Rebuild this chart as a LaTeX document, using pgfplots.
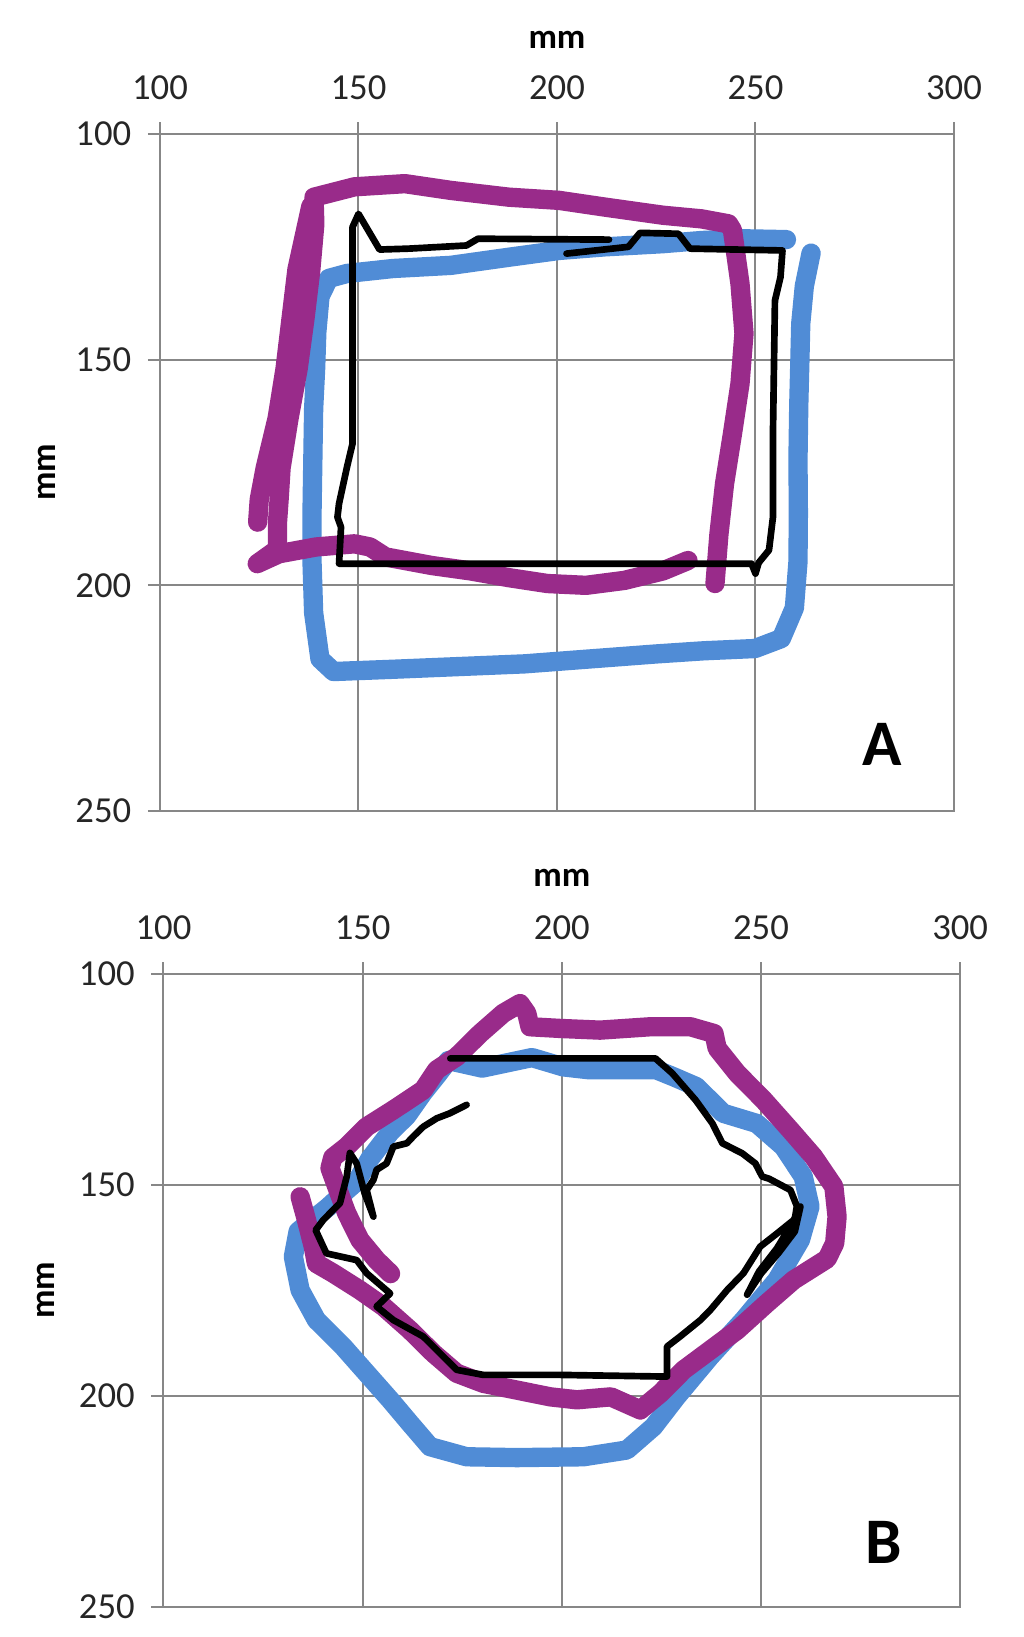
\documentclass[border=0pt]{standalone}
\usepackage{fontspec}
\setmainfont{Carlito}
\usepackage{pgfplots}
\pgfplotsset{compat=1.18}

\definecolor{tracepurple}{RGB}{153,43,138}
\definecolor{traceblue}{RGB}{80,140,214}
\definecolor{gridgray}{RGB}{135,135,135}

\pgfplotsset{
  panel/.style={
    scale only axis,
    anchor=north west,
    xmin=100, xmax=300, ymin=100, ymax=250,
    y dir=reverse,
    xtick={100,150,...,300}, ytick={100,150,200,250},
    xtick pos=right, xticklabel pos=right, ytick pos=left,
    tick align=outside, major tick length=3.6pt,
    grid=major, major grid style={gridgray, line width=0.6pt},
    axis line style={gridgray, line width=0.6pt},
    tick style={gridgray, line width=0.6pt},
    tick label style={font=\fontsize{11}{13}\selectfont, text=black!85},
    xticklabel style={yshift=3pt},
    yticklabel style={xshift=-1.5pt},
    /pgf/number format/assume math mode=true,
    label style={font=\fontsize{10.5}{12}\selectfont\bfseries},
    xlabel={mm}, ylabel={mm},
  },
  bluetrace/.style={traceblue, line width=5.8pt, line join=round, line cap=round, mark=none},
  purpletrace/.style={tracepurple, line width=5.8pt, line join=round, line cap=round, mark=none},
  blacktrace/.style={black, line width=2pt, line join=round, line cap=round, mark=none},
}

\begin{document}
\begin{tikzpicture}
\useasboundingbox (0,0) rectangle (307.2pt,491.1pt);

% panel A: squares
\begin{axis}[panel,
    at={(48pt,450.9pt)}, width=238.2pt, height=203.1pt,
    xlabel style={at={(axis description cs:0.5,1.1388)}, anchor=center},
    ylabel style={at={(axis description cs:-0.1423,0.5)}, anchor=center, rotate=0},
  ]
  \addplot[bluetrace] coordinates {
    (264.0,126.4) (262.3,133.7) (261.4,142) (261.2,149.5) (260.9,160) (260.7,172.2)
    (260.8,184) (260.7,194.8) (259.8,205.0) (256.5,211.8) (249.9,214.0) (237,214.5)
    (225.0,215.2) (208.4,216.3) (191.8,217.4) (175.2,218.0) (158.6,218.6) (143.7,219.1)
    (140.3,216.3) (138.7,206.1) (138.3,195) (138.3,183.5) (138.5,172) (138.7,160.9)
    (139.2,152) (139.5,143.9) (140.3,136.0) (142.5,132.0) (147.1,130.9) (158.7,129.8)
    (173.3,129.1) (187.9,127.3) (200.5,125.8) (212.1,125.0) (226.7,124.3) (236.4,123.6)
    (246.1,123.2) (257.8,123.4)
  };
  \addplot[purpletrace] coordinates {
    (233.0,194.5) (226.7,196.8) (217.0,198.9) (207.3,200.0) (197.6,199.6) (187.9,198.3)
    (178.2,196.8) (168.4,195.6) (156.8,193.7) (152.9,191.5) (149.0,190.8) (139.3,191.5)
    (130,193) (124.5,195.2) (129.6,192) (129.6,186) (130,181) (130.5,174) (132.5,163)
    (134.8,152) (136.5,141) (138,130) (139,120) (138.8,114.0) (149.0,111.7) (161.7,111.0)
    (173.3,112.5) (187.9,114.0) (200.5,114.7) (212.1,116.2) (226.7,118.0) (236.4,118.8)
    (243.2,119.9) (244.2,121.3) (246.1,133.2) (247.1,144.2) (246.1,155.3) (244.2,166.4)
    (242.2,177.5) (240.8,188.6) (239.8,199.6)
  };
  \addplot[purpletrace] coordinates {
    (138,116) (136.5,122) (134.5,130) (133,141) (131.5,152) (129.5,163) (126.5,174)
    (125,181) (124.6,186)
  };
  \addplot[blacktrace] coordinates {
    (213.1,123.4) (180.1,123.2) (177.2,124.7) (162.6,125.4) (155.3,125.6) (150.0,117.7)
    (148.5,120.6) (148.5,168.6) (147.1,173.8) (145.1,181.9) (144.7,184.9) (145.6,187.1)
    (145.1,195.2) (249.0,195.2) (250.0,197.4) (250.8,195.0) (253.4,192.2) (254.4,184.9)
    (254.4,166.4) (254.9,136.9) (256.3,131.7) (256.8,125.8) (233.5,125.4) (230.6,122.1)
    (220.9,121.9) (218.0,125.0) (202.4,126.5)
  };
  \node[font=\fontsize{19.5}{22}\selectfont\bfseries] at (axis cs:282,235.2) {A};
\end{axis}

% panel B: hexagons
\begin{axis}[panel,
    at={(49.05pt,198.9pt)}, width=239pt, height=189.9pt,
    xlabel style={at={(axis description cs:0.5,1.1517)}, anchor=center},
    ylabel style={at={(axis description cs:-0.1475,0.5)}, anchor=center, rotate=0},
  ]
  \addplot[bluetrace] coordinates {
    (171.5,120.5) (180,122.3) (192.5,119.8) (200.3,122.0) (206.9,122.7) (223.7,122.7)
    (227.9,124.3) (233.8,126.7) (240.5,133.0) (248.9,135.4) (255.6,140.9) (260.6,148.0)
    (262.3,155.1) (259.9,163.0) (254.0,172.5) (245.6,182.0) (237.2,190.7) (228.8,200.2)
    (223.0,207.3) (216.3,212.8) (205.4,214.4) (188.7,214.6) (176.1,214.4) (166.9,212.0)
    (161.9,206.5) (156.9,200.9) (151.0,194.6) (145.1,188.3) (138.4,182.0) (134.3,174.9)
    (132.6,167.0) (133.8,161) (137,158.5) (141,155.5) (145.1,152) (148.5,149.2)
    (151.8,143.8) (156.9,137.5) (161.1,133.6) (165.2,128.1) (168.6,124.1) (171.5,120.5)
  };
  \addplot[purpletrace] coordinates {
    (157,171) (153.5,167.8) (149.3,163.0) (146.0,156.7) (143.5,150.4) (141.8,146)
    (142.5,143.5) (146.0,140.9) (151.0,136.2) (157.7,132.2) (165.2,127.5) (168.6,122.7)
    (173.6,119.6) (179.5,114.1) (185.3,109.3) (189.5,107.0) (191.2,109.3) (192.0,112.5)
    (199.6,112.9) (209.6,113.3) (222.2,112.5) (232.3,112.5) (238.2,114.1) (239.0,117.6)
    (244.0,123.5) (250.7,129.9) (257.4,137.0) (263.2,143.3) (268.3,150.4) (269.1,157.5)
    (268.5,163.8) (266.6,167.5) (258.2,172.5) (251.5,178.0) (244.0,184.4) (237.3,189.1)
    (230.6,193.8) (224.7,199.4) (219.7,203.3) (212.3,200.2) (203.8,200.9) (197.1,200.2)
    (188.7,198.6) (180.3,197.0) (173.6,194.6) (167.8,189.9) (161.9,184.4) (155.2,178.8)
    (149.3,174.9) (142.6,170.9) (138.4,168.6) (137.6,164.6) (135.9,158.3) (134.3,152.8)
  };
  \addplot[blacktrace] coordinates {
    (176.1,131.0) (171.9,133.0) (168.6,134.2) (165.2,136.2) (162.7,138.5) (161.1,140.1)
    (157.7,140.9) (156.0,144.9) (153.5,146.4) (152.7,148.8) (151.0,151.2) (152.7,157.5)
    (150.5,152) (148.5,144.9) (146.8,142.4) (146.0,148.0) (144.3,154.3) (140.1,158.3)
    (138.2,160.7) (140.9,166.2) (148.5,167.8) (151.0,170.9) (156.9,175.7) (153.5,178.8)
    (157.7,182.0) (165.2,185.9) (170.3,190.7) (173.6,193.8) (180.3,195.0) (199.6,195.0)
    (226.4,195.4) (226.4,188.3) (229.7,185.9) (234.8,182.0) (237.3,179.6) (241.5,174.9)
    (245.6,170.9) (249.8,164.6) (254.0,161.5) (258.2,158.3) (259.9,155.1) (258.5,161)
    (254.5,166) (250,171) (246.5,176) (249.5,170.5) (254,165) (258.5,158) (259,155)
    (257.4,151.2) (252,148.5) (250.3,148.0) (248.6,144.9) (245.3,142.5) (240.3,140.1)
    (237.8,135.4) (233.6,129.9) (227.7,123.5) (223.5,120.0) (197.1,120.0) (172.0,120.0)
  };
  \node[font=\fontsize{19.5}{22}\selectfont\bfseries] at (axis cs:280.8,234.8) {B};
\end{axis}
\end{tikzpicture}
\end{document}
